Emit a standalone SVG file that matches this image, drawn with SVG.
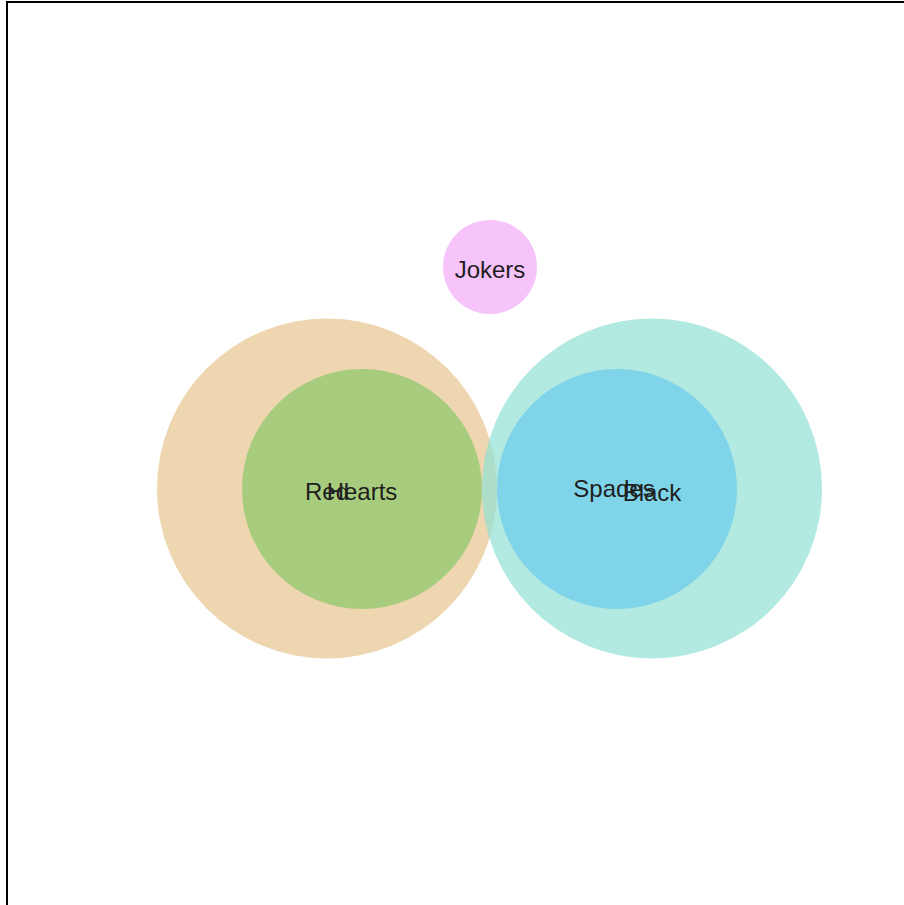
<svg xmlns="http://www.w3.org/2000/svg" width="904" height="905" viewBox="0 0 904 905">
<style>
.set{fill-opacity:0.7;stroke:none}
.lbl{font-family:"Liberation Sans",Arial,sans-serif;font-size:24px;fill:#1e1e1e;text-anchor:middle}
</style>
<rect x="0" y="0" width="904" height="905" fill="#ffffff"/>
<rect x="7" y="2" width="910" height="920" fill="none" stroke="#000000" stroke-width="2"/>
<g id="connectors"></g>
<g id="node-red"><circle class="set" cx="327" cy="488.5" r="170" fill="#E6C48E"/></g>
<g id="node-black"><circle class="set" cx="652" cy="488.5" r="170" fill="#92E1D4"/></g>
<g id="node-hearts"><circle class="set" cx="362" cy="489" r="120" fill="#8AC76A"/></g>
<g id="node-spades"><circle class="set" cx="617" cy="489" r="120" fill="#69CBEC"/></g>
<g id="node-jokers"><circle class="set" cx="490" cy="267" r="47" fill="#F4A9F9"/></g>
<g id="labels">
<text class="lbl" x="327" y="500">Red</text>
<text class="lbl" x="362" y="500">Hearts</text>
<text class="lbl" x="614" y="497">Spades</text>
<text class="lbl" x="652" y="501">Black</text>
<text class="lbl" x="490" y="278">Jokers</text>
</g>
</svg>
